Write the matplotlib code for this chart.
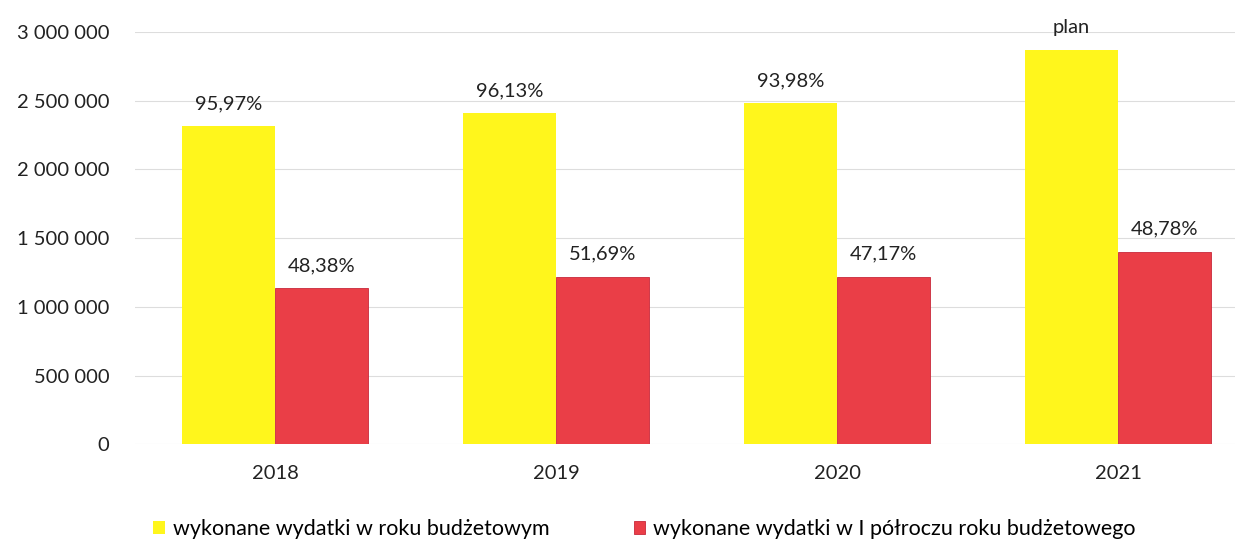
import matplotlib
matplotlib.use("Agg")
import matplotlib.pyplot as plt
import numpy as np
from matplotlib.ticker import FuncFormatter

# dane
lata = ["2018", "2019", "2020", "2021"]
wydatki_rok = [2315000, 2409000, 2482000, 2866000]
wydatki_polrocze = [1134000, 1221000, 1221000, 1402000]
etykiety_rok = ["95,97%", "96,13%", "93,98%", "plan"]
etykiety_polrocze = ["48,38%", "51,69%", "47,17%", "48,78%"]
seria = ["wykonane wydatki w roku budżetowym",
         "wykonane wydatki w I półroczu roku budżetowego"]

plt.rcParams['font.family'] = ['Lato', 'DejaVu Sans']

fig = plt.figure(figsize=(12.35, 5.4), dpi=100)
ax = fig.add_axes([0.109, 0.177, 0.891, 0.764])

x = np.arange(len(lata))
w = 0.332
b1 = ax.bar(x - w / 2, wydatki_rok, w, color='#FFF61C', label=seria[0])
b2 = ax.bar(x + w / 2, wydatki_polrocze, w, color='#EA3E47',
            edgecolor='#C8283A', linewidth=0.6, label=seria[1])

for rect, t in zip(b1, etykiety_rok):
    ax.annotate(t, (rect.get_x() + rect.get_width() / 2, rect.get_height()),
                xytext=(0, 10), textcoords='offset points', ha='center',
                va='bottom', fontsize=14.5, color='#222222')
for rect, t in zip(b2, etykiety_polrocze):
    ax.annotate(t, (rect.get_x() + rect.get_width() / 2, rect.get_height()),
                xytext=(0, 10), textcoords='offset points', ha='center',
                va='bottom', fontsize=14.5, color='#222222')

ax.set_ylim(0, 3000000)
ax.set_xlim(-0.5, 3.416)
ax.set_yticks(np.arange(0, 3000001, 500000))
ax.yaxis.set_major_formatter(FuncFormatter(lambda v, p: f"{int(v):,}".replace(",", " ")))
ax.set_xticks(x)
ax.set_xticklabels(lata)
ax.tick_params(axis='both', length=0, labelsize=14.5, colors='#222222')
ax.tick_params(axis='y', pad=18)
ax.tick_params(axis='x', pad=15)
ax.grid(axis='y', color='#dddddd', linewidth=0.8)
ax.set_axisbelow(True)
for s in ax.spines.values():
    s.set_visible(False)

fig.legend(handles=[b1, b2], loc='center left', bbox_to_anchor=(0.124, 0.02),
           ncol=2, frameon=False, fontsize=15.5, handlelength=0.55,
           handleheight=0.6, handletextpad=0.37, columnspacing=3.9,
           borderpad=0, borderaxespad=0)

fig.savefig("out.png", dpi=100, facecolor='white')
